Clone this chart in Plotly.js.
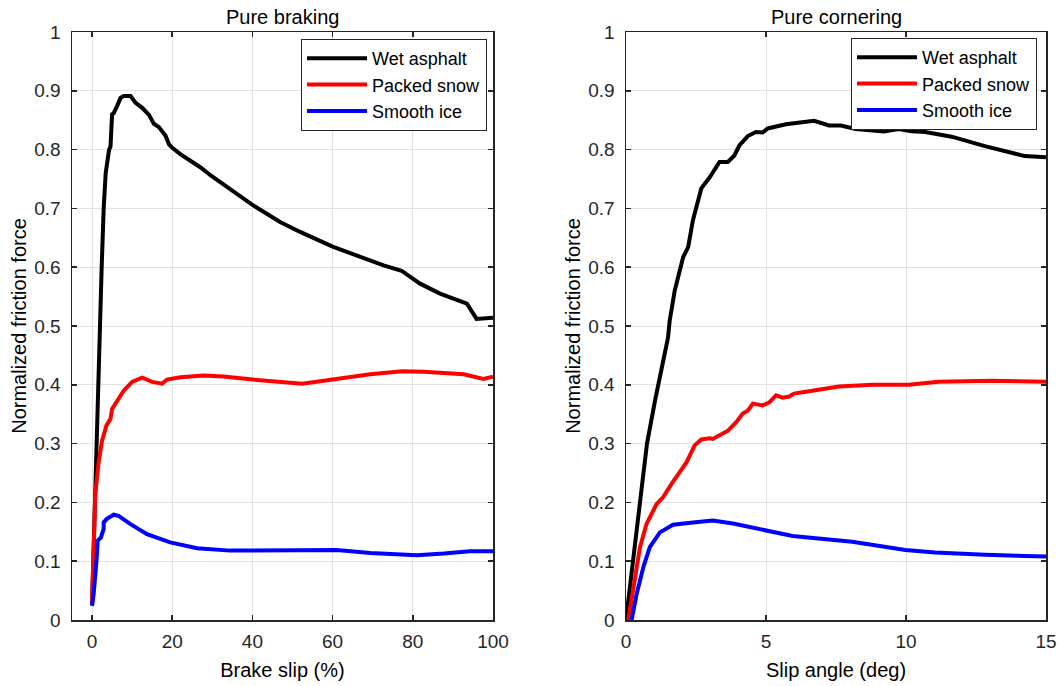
<!DOCTYPE html>
<html>
<head>
<meta charset="utf-8">
<script src="https://cdn.plot.ly/plotly-3.0.1.min.js"></script>
<style>html,body{margin:0;padding:0;background:#fff;}#chart{width:1060px;height:686px;}</style>
</head>
<body>
<div id="chart"></div>
<script>
// ---------- Data: Pure braking (x = brake slip %) ----------
const brakeWetX = [0, 0.67, 1.0, 1.4, 1.9, 2.4, 2.9, 3.4, 4.25, 4.6, 5.0, 5.4, 6.25, 7.1, 7.9, 9.6, 10.8, 12.5, 14.2, 15.4, 16.7, 18.3, 19.2, 20, 22.1, 25.4, 27, 29.6, 31.9, 36.9, 40, 46.9, 51.9, 60, 66.8, 72.7, 77.2, 81.8, 86.8, 93.5, 95.9, 100];
const brakeWetY = [0.026, 0.2, 0.3, 0.4, 0.5, 0.6, 0.7, 0.76, 0.8, 0.805, 0.86, 0.862, 0.874, 0.888, 0.891, 0.891, 0.88, 0.871, 0.859, 0.844, 0.838, 0.824, 0.809, 0.803, 0.792, 0.777, 0.77, 0.756, 0.745, 0.72, 0.706, 0.677, 0.66, 0.635, 0.618, 0.603, 0.594, 0.572, 0.555, 0.538, 0.512, 0.514];

const brakeSnowX = [0, 0.4, 0.8, 1.7, 2.5, 3.6, 4.6, 5.0, 6.2, 7.9, 10, 12.5, 15, 17.5, 18.7, 22, 27.8, 32.8, 40, 47, 52.4, 60, 69.4, 77.3, 82.7, 92.7, 97.6, 100];
const brakeSnowY = [0.032, 0.135, 0.214, 0.271, 0.305, 0.331, 0.342, 0.359, 0.373, 0.39, 0.405, 0.412, 0.405, 0.402, 0.409, 0.413, 0.416, 0.414, 0.409, 0.406, 0.402, 0.409, 0.418, 0.423, 0.422, 0.418, 0.41, 0.414];

const brakeIceX = [0, 0.4, 1.1, 1.4, 2.2, 2.9, 2.9, 3.7, 5.4, 6.6, 9.6, 13.7, 19.5, 26.2, 34.5, 44.5, 54.4, 61, 69.4, 77.7, 81, 87.7, 94.3, 100];
const brakeIceY = [0.024, 0.044, 0.1, 0.135, 0.14, 0.155, 0.166, 0.172, 0.179, 0.177, 0.163, 0.146, 0.132, 0.122, 0.118, 0.119, 0.12, 0.119, 0.114, 0.11, 0.11, 0.113, 0.117, 0.117];

// ---------- Data: Pure cornering (x = slip angle deg) ----------
const cornWetX = [0, 0.25, 0.5, 0.75, 1.04, 1.3, 1.5, 1.56, 1.74, 2.04, 2.22, 2.39, 2.69, 2.99, 3.34, 3.64, 3.87, 4.05, 4.35, 4.64, 4.88, 5.06, 5.71, 6.72, 7.25, 7.67, 8.2, 9.21, 9.74, 10.2, 10.69, 11.63, 12.82, 14.24, 15];
const cornWetY = [0, 0.1, 0.2, 0.3, 0.374, 0.43, 0.48, 0.509, 0.56, 0.617, 0.634, 0.68, 0.734, 0.753, 0.779, 0.779, 0.79, 0.807, 0.823, 0.83, 0.829, 0.836, 0.843, 0.849, 0.841, 0.841, 0.835, 0.831, 0.835, 0.831, 0.83, 0.822, 0.806, 0.789, 0.787];

const cornSnowX = [0.08, 0.26, 0.5, 0.73, 1.09, 1.33, 1.62, 2.16, 2.45, 2.69, 2.99, 3.1, 3.34, 3.64, 3.93, 4.17, 4.35, 4.53, 4.88, 5.12, 5.36, 5.59, 5.83, 6.0, 6.54, 7.6, 8.79, 10.1, 11.16, 13.06, 14.0, 15];
const cornSnowY = [0, 0.056, 0.124, 0.163, 0.197, 0.209, 0.231, 0.268, 0.297, 0.307, 0.309, 0.308, 0.314, 0.322, 0.336, 0.351, 0.356, 0.368, 0.365, 0.37, 0.382, 0.378, 0.38, 0.385, 0.389, 0.397, 0.4, 0.4, 0.405, 0.407, 0.406, 0.405];

const cornIceX = [0.2, 0.38, 0.62, 0.85, 1.21, 1.68, 2.39, 3.1, 3.82, 5.0, 5.95, 8.08, 9.98, 11.04, 12.82, 15];
const cornIceY = [0, 0.044, 0.09, 0.124, 0.149, 0.162, 0.166, 0.169, 0.164, 0.152, 0.143, 0.133, 0.119, 0.115, 0.111, 0.108];

const seriesNames = ["Wet asphalt", "Packed snow", "Smooth ice"];
const seriesColors = ["#000000", "#ff0000", "#0000ff"];
const panelTitles = ["Pure braking", "Pure cornering"];
const xTitles = ["Brake slip (%)", "Slip angle (deg)"];
const yTitle = "Normalized friction force";
const xTicks1 = [0, 20, 40, 60, 80, 100];
const xTicks2 = [0, 5, 10, 15];
const yTicks = [0, 0.1, 0.2, 0.3, 0.4, 0.5, 0.6, 0.7, 0.8, 0.9, 1];

const FONT = "Liberation Sans, Arial, Helvetica, sans-serif";
const AX = "#262626";
const LW = 4;

function mk(x, y, i, xa, ya, leg) {
  return {x: x, y: y, type: "scatter", mode: "lines", name: seriesNames[i],
    line: {color: seriesColors[i], width: LW}, xaxis: xa, yaxis: ya, legend: leg};
}
const data = [
  mk(brakeWetX, brakeWetY, 0, "x", "y", "legend"),
  mk(brakeSnowX, brakeSnowY, 1, "x", "y", "legend"),
  mk(brakeIceX, brakeIceY, 2, "x", "y", "legend"),
  mk(cornWetX, cornWetY, 0, "x2", "y2", "legend2"),
  mk(cornSnowX, cornSnowY, 1, "x2", "y2", "legend2"),
  mk(cornIceX, cornIceY, 2, "x2", "y2", "legend2")
];

const W = 1060, H = 686;
const yDom = [1 - 620 / H, 1 - 32 / H];
function xax(dom, range, ticks, title) {
  return {domain: dom, range: range, tickvals: ticks, ticktext: ticks.map(String),
    ticks: "inside", ticklen: 5, tickwidth: 1.5, tickcolor: AX,
    showline: true, linecolor: AX, linewidth: 1.5, mirror: "ticks",
    showgrid: true, gridcolor: "#e3e3e3", gridwidth: 1, zeroline: false,
    ticklabelstandoff: 4,
    tickfont: {family: FONT, size: 19, color: AX},
    title: {text: title, font: {family: FONT, size: 20, color: "#000"}, standoff: 11}};
}
function yax(range, anchor, title) {
  return {domain: yDom, range: range, anchor: anchor, tickvals: yTicks, ticktext: yTicks.map(String),
    ticks: "inside", ticklen: 5, tickwidth: 1.5, tickcolor: AX,
    showline: true, linecolor: AX, linewidth: 1.5, mirror: "ticks",
    showgrid: true, gridcolor: "#e3e3e3", gridwidth: 1, zeroline: false,
    ticklabelstandoff: 6,
    tickfont: {family: FONT, size: 19, color: AX},
    title: {text: title, font: {family: FONT, size: 20, color: "#000"}, standoff: 2}};
}
const legendBase = {bgcolor: "#ffffff", bordercolor: AX, borderwidth: 1,
  font: {family: FONT, size: 18, color: "#000"}, xanchor: "right", yanchor: "top",
  tracegroupgap: 0, itemwidth: 60, itemclick: false};

const layout = {
  width: W, height: H,
  margin: {l: 0, r: 0, t: 0, b: 0},
  paper_bgcolor: "#ffffff", plot_bgcolor: "#ffffff",
  showlegend: true,
  xaxis: Object.assign(xax([72 / W, 493 / W], [-5, 100], xTicks1, xTitles[0]), {anchor: "y"}),
  yaxis: yax([0, 1], "x", yTitle),
  xaxis2: Object.assign(xax([626 / W, 1046 / W], [0, 15], xTicks2, xTitles[1]), {anchor: "y2"}),
  yaxis2: yax([0, 1], "x2", yTitle),
  legend: Object.assign({}, legendBase, {x: 487 / W, y: 1 - 39 / H}),
  legend2: Object.assign({}, legendBase, {x: 1037 / W, y: 1 - 38 / H}),
  annotations: [
    {text: panelTitles[0], xref: "paper", yref: "paper", x: 282.5 / W, y: 1 - 17 / H, xanchor: "center", yanchor: "middle",
     showarrow: false, font: {family: FONT, size: 20, color: "#000"}},
    {text: panelTitles[1], xref: "paper", yref: "paper", x: 836 / W, y: 1 - 17 / H, xanchor: "center", yanchor: "middle",
     showarrow: false, font: {family: FONT, size: 20, color: "#000"}}
  ]
};

Plotly.newPlot("chart", data, layout, {displayModeBar: false, staticPlot: true});
</script>
</body>
</html>
